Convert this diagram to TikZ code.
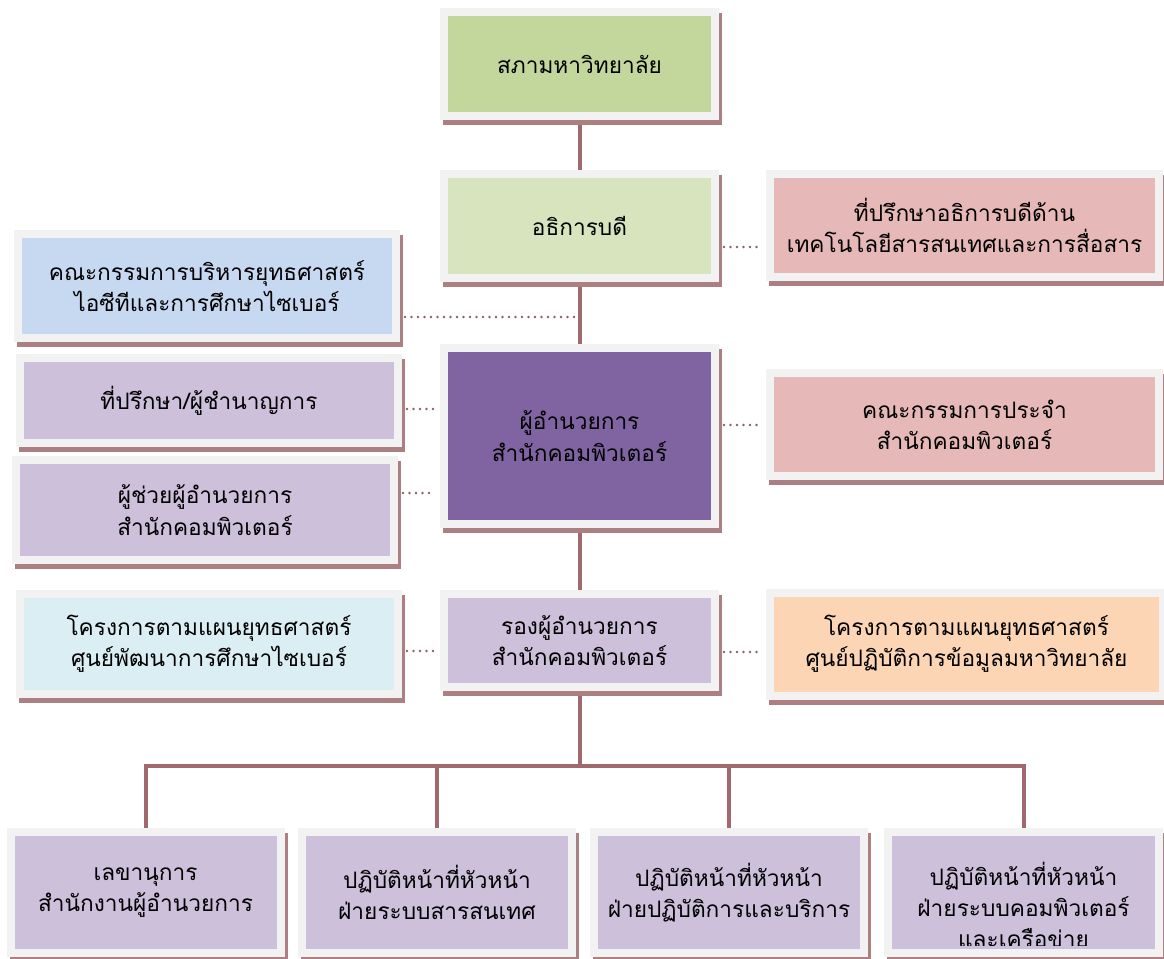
\documentclass[tikz,border=0pt]{standalone}
\usepackage{fontspec}
\newfontfamily\thai[Script=Thai]{Loma}
\usetikzlibrary{shadows}

\definecolor{cadre}{RGB}{242,242,242}
\definecolor{ombre}{RGB}{172,128,130}
\definecolor{lien}{RGB}{160,105,110}
\definecolor{vertA}{RGB}{195,214,155}
\definecolor{vertB}{RGB}{215,228,189}
\definecolor{rose}{RGB}{230,185,184}
\definecolor{bleu}{RGB}{198,217,241}
\definecolor{bleuclair}{RGB}{219,238,244}
\definecolor{mauve}{RGB}{204,192,218}
\definecolor{violet}{RGB}{128,100,162}
\definecolor{orange}{RGB}{252,213,181}
\newlength\pix
\setlength\pix{0.75pt}

\begin{document}
\begin{tikzpicture}[x=0.75pt,y=-0.75pt,
  texte/.style={align=center,font=\thai\fontsize{17}{23.5}\selectfont},
  boite/.style={texte,rectangle,inner sep=0pt,draw=cadre,line width=8\pix,
    general shadow={draw=ombre,fill=ombre,line width=8\pix,shadow xshift=3\pix,shadow yshift=-5\pix}},
  milieu/.style={boite,minimum width=271\pix,minimum height=104\pix},
  gauche/.style={boite,minimum width=378\pix,minimum height=100\pix},
  droite/.style={boite,minimum width=389\pix,minimum height=103\pix},
  bas/.style={boite,fill=mauve,minimum width=270\pix,minimum height=121\pix},
  trait/.style={draw=lien,line width=4\pix},
  pointille/.style={draw=lien!90!black,line width=2.8\pix,line cap=round,dash pattern=on 0pt off 6.5\pix,
    shorten <=5\pix,shorten >=5\pix}]
\useasboundingbox (0,0) rectangle (1164,958);

  % colonne centrale
  \node[milieu,fill=vertA] (A) at (579.5,64) {สภามหาวิทยาลัย};
  \node[milieu,fill=vertB] (B) at (579.5,226) {อธิการบดี};
  \node[milieu,fill=violet,minimum height=176\pix] (P) at (579.5,436) {ผู้อำนวยการ\\สำนักคอมพิวเตอร์};
  \node[milieu,fill=mauve,minimum height=93\pix] (R) at (579.5,640.5) {รองผู้อำนวยการ\\สำนักคอมพิวเตอร์};

  % à droite
  \node[droite,fill=rose] (C) at (964.5,225.5) {ที่ปรึกษาอธิการบดีด้าน\\เทคโนโลยีสารสนเทศและการสื่อสาร};
  \node[droite,fill=rose] (D) at (964.5,424.5) {คณะกรรมการประจำ\\สำนักคอมพิวเตอร์};
  \node[droite,fill=orange,minimum width=393\pix] (O) at (966.5,644) {โครงการตามแผนยุทธศาสตร์\\ศูนย์ปฏิบัติการข้อมูลมหาวิทยาลัย};

  % à gauche
  \node[gauche,fill=bleu,minimum height=104\pix] (E) at (207,286) {คณะกรรมการบริหารยุทธศาสตร์\\ไอซีทีและการศึกษาไซเบอร์};
  \node[gauche,fill=mauve,minimum height=85\pix] (F) at (209,400.5) {ที่ปรึกษา/ผู้ชำนาญการ};
  \node[gauche,fill=mauve] (G) at (205,510) {ผู้ช่วยผู้อำนวยการ\\สำนักคอมพิวเตอร์};
  \node[gauche,fill=bleuclair] (H) at (209,644) {โครงการตามแผนยุทธศาสตร์\\ศูนย์พัฒนาการศึกษาไซเบอร์};

  % en bas
  \node[bas] (b1) at (145.5,892.5) {เลขานุการ\\สำนักงานผู้อำนวยการ};
  \node[bas] (b2) at (437,892.5) {ปฏิบัติหน้าที่หัวหน้า\\ฝ่ายระบบสารสนเทศ};
  \node[bas] (b3) at (729,892.5) {ปฏิบัติหน้าที่หัวหน้า\\ฝ่ายปฏิบัติการและบริการ};
  \node[bas,minimum width=271\pix] (b4) at (1023.5,892.5) {};
  \begin{scope}
    \clip (b4.north west) rectangle (1160,945);
    \node[texte] (t4) at (1023.5,905) {ปฏิบัติหน้าที่หัวหน้า\\ฝ่ายระบบคอมพิวเตอร์\\และเครือข่าย};
  \end{scope}

  % liens
  \draw[trait,shorten <=5\pix] (A.south) -- (B.north);
  \draw[trait,shorten <=5\pix] (B.south) -- (P.north);
  \draw[trait,shorten <=5\pix] (P.south) -- (R.north);
  \coordinate (bus) at (R.south |- 0,766);
  \draw[trait,shorten <=5\pix] (R.south) -- (bus);
  \draw[trait] (b1.north) |- (bus) -| (b4.north);
  \draw[trait] (b2.north) |- (bus);
  \draw[trait] (b3.north) |- (bus);

  % pointillés
  \draw[pointille] (B.east |- 0,247) -- (C.west |- 0,247);
  \draw[pointille] (P.east |- 0,425) -- (D.west |- 0,425);
  \draw[pointille,shorten >=2\pix] (E.east |- 0,317) -- (B.south |- 0,317);
  \draw[pointille] (F.east |- 0,409) -- (P.west |- 0,409);
  \draw[pointille] (G.east |- 0,493) -- (P.west |- 0,493);
  \draw[pointille] (H.east |- 0,651) -- (R.west |- 0,651);
  \draw[pointille] (R.east |- 0,652) -- (O.west |- 0,652);

\end{tikzpicture}
\end{document}
